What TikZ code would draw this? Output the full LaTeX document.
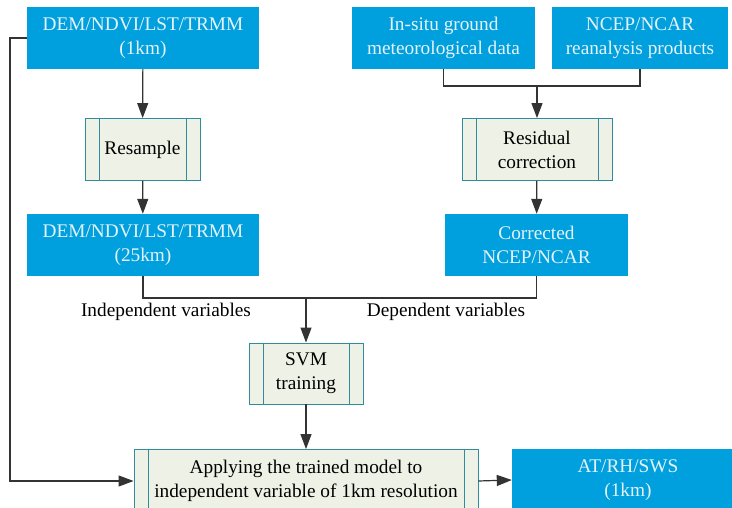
\documentclass[tikz,border=0pt]{standalone}
\usepackage{fontspec}
\setmainfont{Liberation Serif}
\usetikzlibrary{arrows.meta}
\definecolor{dblue}{HTML}{00A0DE}
\definecolor{btext}{HTML}{E6F2F8}
\definecolor{pfill}{HTML}{EEF2E6}
\definecolor{pdraw}{HTML}{2E8C9C}
\definecolor{lgray}{HTML}{333333}
\tikzset{
  databox/.style={rectangle, fill=dblue, text=btext, align=center, inner sep=0pt,
    font=\fontsize{19.3}{24}\selectfont},
  procbox/.style={rectangle, fill=pfill, draw=pdraw, line width=0.9pt, align=center, inner sep=0pt,
    font=\fontsize{19.3}{24}\selectfont,
    path picture={
      \draw[pdraw, line width=0.9pt] ([xshift=14pt]path picture bounding box.north west) -- ([xshift=14pt]path picture bounding box.south west);
      \draw[pdraw, line width=0.9pt] ([xshift=-14pt]path picture bounding box.north east) -- ([xshift=-14pt]path picture bounding box.south east);
    }},
  conn/.style={draw=lgray, line width=1.2pt},
  arr/.style={conn, -{Triangle[length=15pt,width=11pt]}},
  lbl/.style={font=\fontsize{19.3}{24}\selectfont, inner sep=0pt}
}
\begin{document}
\begin{tikzpicture}[x=1pt,y=-1pt]
\useasboundingbox (0,0) rectangle (732,508);
% data boxes
\node[databox, minimum width=232pt, minimum height=62pt] (dem1) at (143,38) {DEM/NDVI/LST/TRMM\\(1km)};
\node[databox, minimum width=183pt, minimum height=62pt] (insitu) at (443.5,38) {In-situ ground\\meteorological data};
\node[databox, minimum width=176pt, minimum height=62pt] (ncep) at (640,38) {NCEP/NCAR\\reanalysis products};
\node[procbox, minimum width=115pt, minimum height=62pt] (resamp) at (142.5,149.5) {Resample};
\node[procbox, minimum width=150pt, minimum height=62pt] (resid) at (537,149.5) {Residual\\correction};
\node[databox, minimum width=232pt, minimum height=62pt] (dem25) at (143,245) {DEM/NDVI/LST/TRMM\\(25km)};
\node[databox, minimum width=183pt, minimum height=62pt] (corr) at (536.5,245) {Corrected\\NCEP/NCAR};
\node[procbox, minimum width=114pt, minimum height=61pt] (svm) at (306,373.5) {SVM\\training};
\node[procbox, minimum width=344pt, minimum height=63pt] (apply) at (306,481) {Applying the trained model to\\independent variable of 1km resolution};
\node[databox, minimum width=232pt, minimum height=62pt] (out) at (628,480) {AT/RH/SWS\\(1km)};
% labels
\node[lbl] (indep) at (166,312) {Independent variables};
\node[lbl] (dep) at (446,312) {Dependent variables};
% connectors
\coordinate (j1) at (537,86);
\coordinate (j2) at (306,298);
\draw[arr] (dem1) -- (resamp);
\draw[arr] (resamp) -- (dem25);
\draw[conn] (insitu.south) |- (j1) -| (ncep.south);
\draw[arr] (j1) -- (resid);
\draw[arr] (resid) -- (corr);
\draw[conn] (dem25.south) |- (j2) -| (corr.south);
\draw[arr] (j2) -- (svm);
\draw[arr] (svm) -- (svm.south |- apply.north);
\draw[arr] (dem1.west) -- (10,38) |- (apply.west);
\draw[arr] (apply.east) -- (out.west);
\end{tikzpicture}
\end{document}
